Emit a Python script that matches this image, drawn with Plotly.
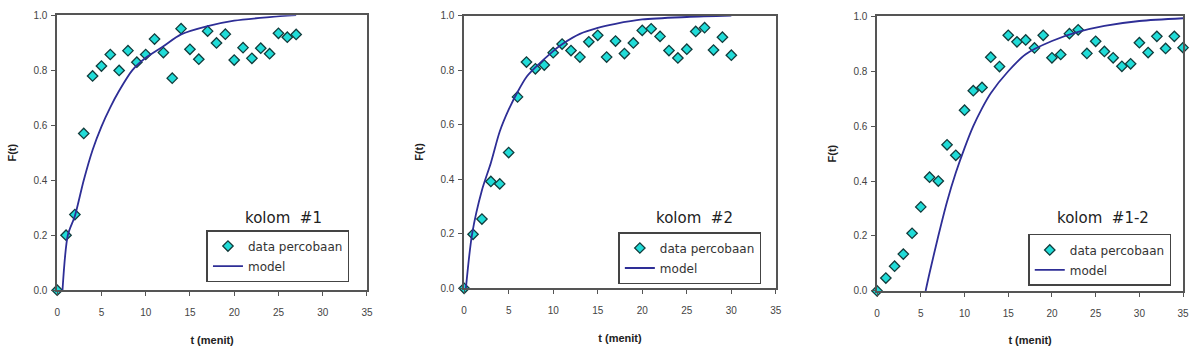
import plotly.graph_objects as go

# ---------------- data ----------------
t1 = list(range(0, 28))
f1 = [0.0, 0.200, 0.275, 0.570, 0.779, 0.815, 0.857, 0.799, 0.871, 0.829,
      0.857, 0.913, 0.864, 0.771, 0.951, 0.876, 0.840, 0.942, 0.899, 0.931,
      0.837, 0.882, 0.843, 0.880, 0.860, 0.934, 0.920, 0.930]
m1_t = [0.6, 1.2, 2, 3, 4, 5, 6, 7, 8.5, 10, 12, 14, 17, 20, 24, 27]
m1_f = [0.0, 0.20, 0.27, 0.40, 0.51, 0.595, 0.665, 0.725, 0.80, 0.845, 0.887,
        0.93, 0.96, 0.98, 0.993, 1.0]

t2 = list(range(0, 31))
f2 = [0.0, 0.198, 0.254, 0.392, 0.383, 0.498, 0.702, 0.830, 0.805, 0.819,
      0.864, 0.896, 0.872, 0.848, 0.904, 0.928, 0.848, 0.907, 0.861, 0.900,
      0.946, 0.952, 0.924, 0.872, 0.845, 0.877, 0.942, 0.956, 0.874, 0.921,
      0.855]
m2_t = [0.2, 0.9, 2, 3, 4, 5, 6, 7, 8, 10, 11, 13, 15, 17, 20, 25, 30]
m2_f = [0.0, 0.20, 0.36, 0.46, 0.575, 0.655, 0.72, 0.775, 0.81, 0.87, 0.895,
        0.933, 0.955, 0.97, 0.986, 0.995, 1.0]

t3 = list(range(0, 36))
f3 = [0.0, 0.047, 0.090, 0.134, 0.210, 0.306, 0.414, 0.400, 0.532, 0.494,
      0.658, 0.729, 0.741, 0.851, 0.817, 0.931, 0.907, 0.914, 0.885, 0.931,
      0.849, 0.861, 0.937, 0.951, 0.865, 0.909, 0.872, 0.849, 0.818, 0.827,
      0.904, 0.868, 0.927, 0.883, 0.927, 0.886]
m3_t = [5.55, 6, 7, 8, 9, 10, 11, 12, 13, 15, 17, 20, 23, 26, 30, 35]
m3_f = [0.0, 0.065, 0.20, 0.325, 0.43, 0.52, 0.60, 0.665, 0.72, 0.80, 0.862,
        0.91, 0.943, 0.965, 0.983, 0.993]

panel_titles = ["kolom  #1", "kolom  #2", "kolom  #1-2"]
x_ticks = [0, 5, 10, 15, 20, 25, 30, 35]
y_ticks = [0.0, 0.2, 0.4, 0.6, 0.8, 1.0]

# ---------------- styling ----------------
W, H = 1201, 351
MARK_FILL = "#20dcd8"
MARK_EDGE = "#123c3c"
LINE_COL = "#2e2e96"
AXIS_COL = "#555555"
TICK_FONT = dict(family="Liberation Sans, Arial, sans-serif", size=10, color="#444444")
TITLE_FONT = dict(family="Liberation Sans, Arial, sans-serif", size=11, color="#222222", weight="bold")
LEG_FONT = dict(family="DejaVu Sans, sans-serif", size=12, color="#333333")

# pixel geometry of the three plot areas: (left, right, top, bottom)
boxes = [(54.6, 366.7, 9.5, 294.3), (464.6, 778.7, 10.0, 292.3), (880.7, 1189.0, 10.7, 295.0)]
legend_pos = [(205, 232), (620, 234), (1033, 236)]
title_pos = [(283, 219), (697, 219), (1108, 219)]

fig = go.Figure()
data_sets = [(t1, f1, m1_t, m1_f), (t2, f2, m2_t, m2_f), (t3, f3, m3_t, m3_f)]

layout = dict(
    width=W, height=H, autosize=False,
    margin=dict(l=0, r=0, t=0, b=0),
    paper_bgcolor="white", plot_bgcolor="white",
    showlegend=True,
)

annotations = []
for i, (tx, fx, mt, mf) in enumerate(data_sets):
    n = "" if i == 0 else str(i + 1)
    xa, ya = "x" + n, "y" + n
    leg = "legend" + n
    fig.add_trace(go.Scatter(
        x=tx, y=fx, mode="markers", name="data percobaan",
        marker=dict(symbol="diamond", size=8, color=MARK_FILL,
                    line=dict(color=MARK_EDGE, width=1.3)),
        cliponaxis=False, xaxis=xa, yaxis=ya, legend=leg, legendgroup="d" + n))
    fig.add_trace(go.Scatter(
        x=mt, y=mf, mode="lines", name="model",
        line=dict(color=LINE_COL, width=1.8, shape="spline", smoothing=0.8),
        xaxis=xa, yaxis=ya, legend=leg, legendgroup="m" + n))

    l, r, t, b = boxes[i]
    common = dict(showline=True, linecolor=AXIS_COL, linewidth=1.5, mirror=True,
                  ticks="outside", ticklen=4, tickwidth=1, tickcolor=AXIS_COL,
                  showgrid=False, zeroline=False, tickfont=TICK_FONT)
    layout["xaxis" + n] = dict(domain=[l / W, r / W], range=[0, 35], tickvals=x_ticks,
                               anchor=ya, ticklabelstandoff=8,
                               title=dict(text="t (menit)", font=TITLE_FONT, standoff=19),
                               **common)
    layout["yaxis" + n] = dict(domain=[(H - b) / H, (H - t) / H], range=[0, 1], tickvals=y_ticks,
                               tickformat=".1f", anchor=xa, ticklabelstandoff=2,
                               title=dict(text="F(t)", font=TITLE_FONT, standoff=15),
                               **common)
    lx, ly = legend_pos[i]
    layout[leg] = dict(x=lx / W, y=(H - ly) / H, xanchor="left", yanchor="top",
                       bordercolor="#444444", borderwidth=1.5, bgcolor="white",
                       font=LEG_FONT, traceorder="grouped", tracegroupgap=1)
    tx_, ty_ = title_pos[i]
    annotations.append(dict(text=panel_titles[i], x=tx_ / W, y=(H - ty_) / H,
                            xref="paper", yref="paper", showarrow=False,
                            xanchor="center", yanchor="middle",
                            font=dict(family="DejaVu Sans, sans-serif", size=15, color="#222222")))

layout["annotations"] = annotations
fig.update_layout(**layout)
fig.write_html("out.html")
